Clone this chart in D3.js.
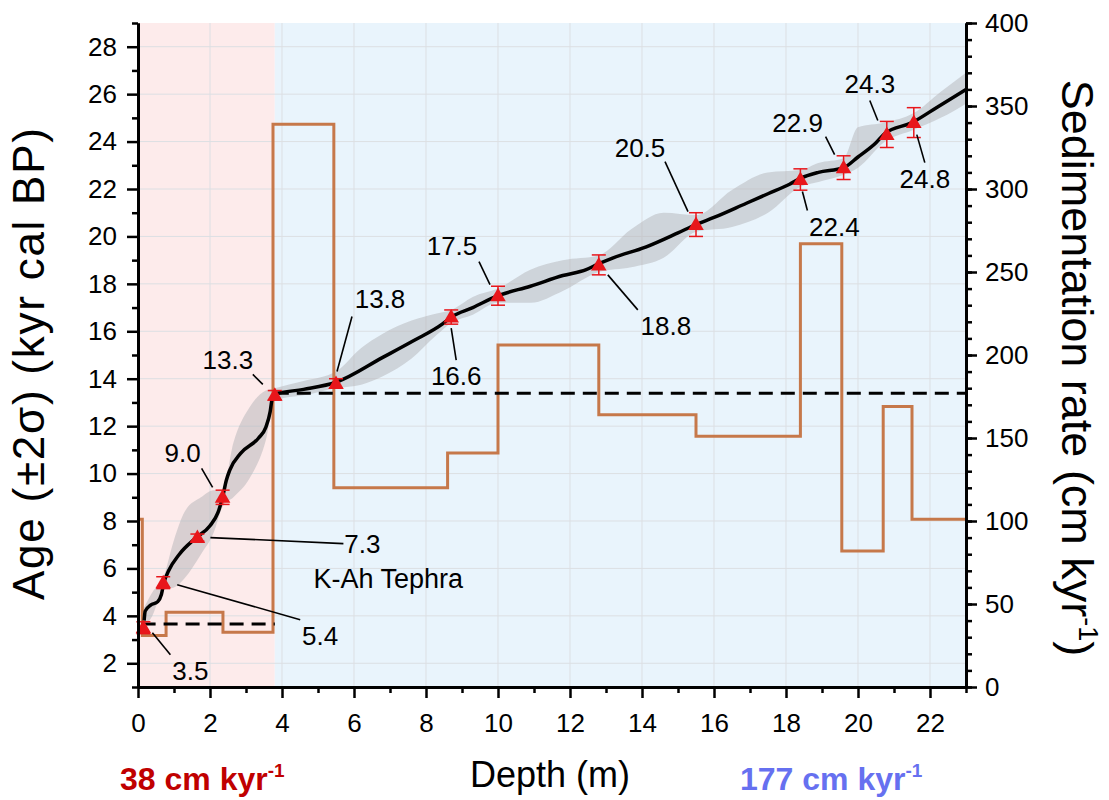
<!DOCTYPE html>
<html>
<head>
<meta charset="utf-8">
<script src="https://cdn.jsdelivr.net/npm/d3@7"></script>
<style>
  body { margin: 0; background: #fff; }
  svg { font-family: "Liberation Sans", Arial, sans-serif; }
</style>
</head>
<body>
<svg width="1109" height="800"></svg>
<script>
/* ===============================
   Data
   =============================== */
// dated points (depth m, age kyr, 2 sigma)
let dateDepth = [0.15, 0.7, 1.65, 2.35, 3.8, 5.5, 8.7, 10.0, 12.8, 15.5, 18.4, 19.6, 20.8, 21.55];
let dateAge = [3.5, 5.4, 7.3, 9.0, 13.3, 13.8, 16.6, 17.5, 18.8, 20.5, 22.4, 22.9, 24.3, 24.8];
let dateErr = [0.25, 0.25, 0.15, 0.3, 0.2, 0.2, 0.3, 0.4, 0.42, 0.5, 0.45, 0.5, 0.55, 0.63];
let dateLabel = ["3.5", "5.4", "7.3", "9.0", "13.3", "13.8", "16.6", "17.5", "18.8", "20.5", "22.4", "22.9", "24.3", "24.8"];

// age model curve
let curveDepth = [0.17, 0.2, 0.35, 0.55, 0.65, 0.72, 0.85, 1.15, 1.62, 2.0, 2.22, 2.35, 2.45, 2.55, 2.85, 3.35, 3.55, 3.67, 3.72, 3.8,
    4.6, 5.5, 6.8, 7.65, 8.45, 8.7, 9.3, 10.0, 10.9, 11.8, 12.45, 12.8, 13.2, 14.1, 15.0, 15.5, 16.0, 16.9, 17.5, 18.1, 18.4,
    18.9, 19.6, 20.0, 20.5, 20.75, 21.5, 22.2, 23.0];
let curveAge = [3.8, 4.2, 4.45, 4.6, 4.9, 5.4, 5.9, 6.6, 7.3, 7.8, 8.35, 9.0, 9.7, 10.15, 10.85, 11.5, 11.95, 12.6, 13.1, 13.35,
    13.55, 13.85, 14.9, 15.6, 16.3, 16.6, 17.0, 17.5, 17.9, 18.35, 18.6, 18.85, 19.1, 19.55, 20.15, 20.5, 20.8, 21.4, 21.8, 22.2, 22.45,
    22.7, 22.9, 23.35, 23.95, 24.35, 24.8, 25.45, 26.2];

// uncertainty envelope
let bandDepth = [0.15, 0.4, 0.7, 1.0, 1.3, 1.75, 2.1, 2.35, 2.65, 3.1, 3.55, 3.8, 4.6, 5.5, 6.2, 6.8, 7.6, 8.3, 8.7, 9.3, 10.0,
    10.9, 11.8, 12.8, 13.7, 14.6, 15.5, 16.5, 17.5, 18.4, 18.9, 19.6, 20.0, 20.75, 21.55, 22.3, 23.0];
let bandLow = [3.5, 4.0, 5.1, 5.2, 5.6, 6.6, 7.5, 8.6, 9.0, 9.8, 11.4, 13.1, 13.3, 13.6, 13.75, 14.1, 14.85, 15.85, 16.35, 16.7, 17.2,
    17.2, 17.7, 18.5, 18.7, 19.1, 20.2, 20.4, 21.0, 22.1, 22.3, 22.6, 22.9, 24.0, 24.5, 25.0, 25.6];
let bandHigh = [4.3, 5.0, 5.6, 7.2, 8.4, 9.0, 9.3, 9.3, 11.3, 12.8, 13.5, 13.6, 13.9, 14.3, 15.3, 15.9, 16.45, 16.75, 16.9, 17.45, 17.8,
    18.6, 19.0, 19.2, 20.3, 21.0, 20.9, 21.96, 22.7, 22.8, 23.1, 23.3, 24.6, 24.8, 25.2, 26.1, 26.9];

// sedimentation rate steps (cm/kyr)
let sedDepth = [0, 0.12, 0.78, 2.36, 3.75, 5.44, 8.6, 10.0, 12.8, 15.5, 18.4, 19.55, 20.7, 21.5, 23];
let sedRate = [101, 31, 45, 33, 339, 120, 141, 206, 164, 151, 267, 82, 169, 101];

// mean rates for the two units
let meanRate = [38, 177];
let meanFrom = [0.1, 3.8];
let meanTo = [3.8, 23];

let xTicks = d3.range(0, 23, 2);
let yTicks = d3.range(2, 29, 2);
let rTicks = d3.range(0, 401, 50);

/* ===============================
   Layout
   =============================== */
let svg = d3.select("svg");
let plotL = 138, plotR = 966, plotT = 23, plotB = 687;

let x = d3.scaleLinear().domain([0, 23]).range([plotL, plotR]);
let y = d3.scaleLinear().domain([1, 29]).range([plotB, plotT]);
let yR = d3.scaleLinear().domain([0, 400]).range([plotB, plotT]);

let red = "#e8161b";
let orange = "#c6784a";

/* ===============================
   Background zones
   =============================== */
svg.append("rect")
    .attr("x", x(0)).attr("y", plotT)
    .attr("width", x(3.8) - x(0)).attr("height", plotB - plotT)
    .attr("fill", "#fdebeb");

svg.append("rect")
    .attr("x", x(3.8)).attr("y", plotT)
    .attr("width", x(23) - x(3.8)).attr("height", plotB - plotT)
    .attr("fill", "#e9f4fc");

/* ===============================
   Grid
   =============================== */
svg.append("g").selectAll("line").data(xTicks.slice(1)).join("line")
    .attr("x1", d => x(d)).attr("x2", d => x(d))
    .attr("y1", plotT).attr("y2", plotB)
    .attr("stroke", "#dcdfe3").attr("stroke-width", 1);

svg.append("g").selectAll("line").data(yTicks).join("line")
    .attr("x1", plotL).attr("x2", plotR)
    .attr("y1", d => y(d)).attr("y2", d => y(d))
    .attr("stroke", "#dcdfe3").attr("stroke-width", 1);

/* ===============================
   Uncertainty band
   =============================== */
let band = d3.area()
    .x((d, i) => x(bandDepth[i]))
    .y0((d, i) => y(bandLow[i]))
    .y1((d, i) => y(bandHigh[i]))
    .curve(d3.curveMonotoneX);

svg.append("path")
    .attr("d", band(bandDepth))
    .attr("fill", "#b4b4b8")
    .attr("opacity", 0.5);

/* ===============================
   Sedimentation rate steps
   =============================== */
let stepPts = sedRate.map((r, i) => [sedDepth[i], r]);
stepPts.push([sedDepth[sedDepth.length - 1], sedRate[sedRate.length - 1]]);

let step = d3.line()
    .x(d => x(d[0]))
    .y(d => yR(d[1]))
    .curve(d3.curveStepAfter);

svg.append("path")
    .attr("d", step(stepPts))
    .attr("fill", "none")
    .attr("stroke", orange)
    .attr("stroke-width", 3);

/* ===============================
   Mean rate dashed lines
   =============================== */
svg.append("g").selectAll("line").data(meanRate).join("line")
    .attr("x1", (d, i) => x(meanFrom[i]))
    .attr("x2", (d, i) => x(meanTo[i]))
    .attr("y1", d => yR(d)).attr("y2", d => yR(d))
    .attr("stroke", "#000")
    .attr("stroke-width", 3)
    .attr("stroke-dasharray", "14,8");

/* ===============================
   Age model curve
   =============================== */
let ageLine = d3.line()
    .x((d, i) => x(curveDepth[i]))
    .y((d, i) => y(curveAge[i]))
    .curve(d3.curveMonotoneX);

svg.append("path")
    .attr("d", ageLine(curveDepth))
    .attr("fill", "none")
    .attr("stroke", "#000")
    .attr("stroke-width", 3.5);

/* ===============================
   Dates: error bars + triangles
   =============================== */
let dates = svg.append("g");

dates.append("g").selectAll("line").data(dateAge).join("line")
    .attr("x1", (d, i) => x(dateDepth[i])).attr("x2", (d, i) => x(dateDepth[i]))
    .attr("y1", (d, i) => y(d - dateErr[i])).attr("y2", (d, i) => y(d + dateErr[i]))
    .attr("stroke", red).attr("stroke-width", 1.5);

[-1, 1].forEach(s => {
    dates.append("g").selectAll("line").data(dateAge).join("line")
        .attr("x1", (d, i) => x(dateDepth[i]) - 7).attr("x2", (d, i) => x(dateDepth[i]) + 7)
        .attr("y1", (d, i) => y(d + s * dateErr[i])).attr("y2", (d, i) => y(d + s * dateErr[i]))
        .attr("stroke", red).attr("stroke-width", 1.5);
});

dates.append("g").selectAll("path").data(dateAge).join("path")
    .attr("d", d3.symbol(d3.symbolTriangle, 105))
    .attr("transform", (d, i) => "translate(" + x(dateDepth[i]) + "," + (y(d) + 1) + ")")
    .attr("fill", red);

/* ===============================
   Labels with leader lines
   =============================== */
// pixel offsets from each point: leader start, leader end, text position
let leadFrom = [[9, 5], [14, 2], [13, 0], [-10, -10], [-12, -11], [1, -12], [0, 11], [-8, -11], [9, 10], [-8, -13], [2, 12], [-9, -13], [-9, -14], [3, 12]];
let leadTo = [[27, 27], [137, 37], [146, 6], [-21, -29], [-22, -21], [16, -67], [5, 43], [-19, -34], [39, 45], [-31, -63], [7, 31], [-18, -31], [-17, -34], [11, 40]];
let textAt = [[47, 52], [157, 62], [165, 15], [-40, -35], [-47, -26], [44, -75], [5, 68], [-46, -41], [67, 70], [-56, -68], [34, 56], [-46, -36], [-17, -41], [11, 65]];

svg.append("g").selectAll("line").data(dateAge).join("line")
    .attr("x1", (d, i) => x(dateDepth[i]) + leadFrom[i][0])
    .attr("y1", (d, i) => y(d) + leadFrom[i][1])
    .attr("x2", (d, i) => x(dateDepth[i]) + leadTo[i][0])
    .attr("y2", (d, i) => y(d) + leadTo[i][1])
    .attr("stroke", "#000").attr("stroke-width", 1.6);

svg.append("g").selectAll("text").data(dateLabel).join("text")
    .attr("x", (d, i) => x(dateDepth[i]) + textAt[i][0])
    .attr("y", (d, i) => y(dateAge[i]) + textAt[i][1])
    .attr("text-anchor", "middle")
    .attr("font-size", 26)
    .text(d => d);

svg.append("text")
    .attr("x", x(dateDepth[2]) + 116)
    .attr("y", y(dateAge[2]) + 50)
    .attr("font-size", 27)
    .text("K-Ah Tephra");

/* ===============================
   Axes
   =============================== */
function styleAxis(g) {
    g.select(".domain").attr("stroke-width", 3);
    g.selectAll(".tick line").attr("stroke-width", 2.5);
    g.selectAll("text").attr("font-size", 26).attr("font-family", "Liberation Sans, Arial, sans-serif");
}

// bottom
svg.append("g")
    .attr("transform", "translate(0," + plotB + ")")
    .call(d3.axisBottom(x).tickValues(d3.range(1, 24, 2)).tickSize(6).tickFormat("").tickSizeOuter(0))
    .call(styleAxis);
svg.append("g")
    .attr("transform", "translate(0," + plotB + ")")
    .call(d3.axisBottom(x).tickValues(xTicks).tickSize(11).tickPadding(16).tickSizeOuter(0))
    .call(styleAxis);

// left
svg.append("g")
    .attr("transform", "translate(" + plotL + ",0)")
    .call(d3.axisLeft(y).tickValues(d3.range(1, 30, 2)).tickSize(6).tickFormat("").tickSizeOuter(0))
    .call(styleAxis);
svg.append("g")
    .attr("transform", "translate(" + plotL + ",0)")
    .call(d3.axisLeft(y).tickValues(yTicks).tickSize(11).tickPadding(10).tickSizeOuter(0))
    .call(styleAxis);

// right
svg.append("g")
    .attr("transform", "translate(" + plotR + ",0)")
    .call(d3.axisRight(yR).tickValues(d3.range(0, 401, 10)).tickSize(6).tickFormat("").tickSizeOuter(0))
    .call(styleAxis);
svg.append("g")
    .attr("transform", "translate(" + plotR + ",0)")
    .call(d3.axisRight(yR).tickValues(rTicks).tickSize(11).tickPadding(8).tickSizeOuter(0))
    .call(styleAxis);

/* ===============================
   Titles
   =============================== */
svg.append("text")
    .attr("transform", "translate(44,364) rotate(-90)")
    .attr("text-anchor", "middle")
    .attr("font-size", 44)
    .attr("textLength", 472)
    .text("Age (±2σ) (kyr cal BP)");

let rt = svg.append("text")
    .attr("transform", "translate(1062,368) rotate(90)")
    .attr("text-anchor", "middle")
    .attr("font-size", 45);
rt.append("tspan").text("Sedimentation rate (cm kyr");
rt.append("tspan").attr("font-size", 27).attr("dy", -17).text("-1");
rt.append("tspan").attr("dy", 17).text(")");

svg.append("text")
    .attr("x", 550).attr("y", 787)
    .attr("text-anchor", "middle")
    .attr("font-size", 36)
    .text("Depth (m)");

let lt = svg.append("text")
    .attr("x", 120).attr("y", 790)
    .attr("font-size", 32).attr("font-weight", "bold")
    .attr("fill", "#c00000");
lt.append("tspan").text("38 cm kyr");
lt.append("tspan").attr("font-size", 19).attr("dy", -13).text("-1");

let bt = svg.append("text")
    .attr("x", 740).attr("y", 790)
    .attr("font-size", 32).attr("font-weight", "bold")
    .attr("fill", "#6670f0");
bt.append("tspan").text("177 cm kyr");
bt.append("tspan").attr("font-size", 19).attr("dy", -13).text("-1");
</script>
</body>
</html>
